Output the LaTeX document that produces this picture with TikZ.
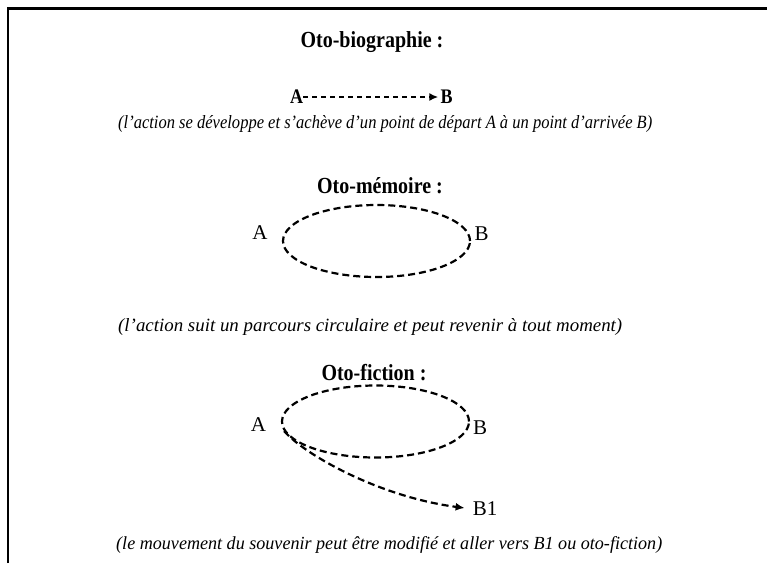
\documentclass[tikz,border=0pt]{standalone}
\usepackage{fontspec}
\setmainfont{Liberation Serif}
\usetikzlibrary{arrows.meta,shapes.geometric}
\tikzset{
  titre/.style={anchor=base,inner sep=0pt,font=\fontsize{20}{24}\selectfont\bfseries},
  lettre/.style={inner sep=0pt,font=\fontsize{21}{25}\selectfont},
  legende/.style={anchor=base west,inner sep=0pt},
  pointille/.style={line width=2.2pt,dash pattern=on 7pt off 4pt},
  boucle/.style={ellipse,draw,pointille,minimum width=187pt,minimum height=72pt,inner sep=0pt},
  fleche/.style={-{Latex[length=9pt,width=8pt]}}
}
\newcommand{\tit}[1]{\scalebox{1}[1.15]{#1}}
\newcommand{\leg}[2]{\resizebox{#1pt}{13pt}{\itshape #2}}
\begin{document}
\begin{tikzpicture}[x=1pt,y=-1pt]
\useasboundingbox (0,0) rectangle (767,563);
\fill[white] (0,0) rectangle (767,563);
\draw[line width=2.6pt] (8,563) -- (8,8.5) -- (767,8.5);

\node[titre] (t1) at (372,47) {\tit{Oto-biographie :}};
\node[lettre,font=\fontsize{18}{22}\selectfont\bfseries] (a1) at (296.5,97) {\tit{A}};
\node[lettre,font=\fontsize{18}{22}\selectfont\bfseries] (b1) at (446.5,97) {\tit{B}};
\draw[pointille,line width=1.9pt,dash pattern=on 5pt off 4pt,fleche,shorten >=2pt] (a1.east) -- (b1.west);
\node[legende] (l1) at (118,128) {\leg{534}{(l'action se développe et s'achève d'un point de départ A à un point d'arrivée B)}};

\node[titre] (t2) at (380,193) {\tit{Oto-mémoire :}};
\node[boucle] (e1) at (376.5,241) {};
\node[lettre] (a2) at (260,233) {A};
\node[lettre] (b2) at (481.5,234) {B};
\node[legende] (l2) at (118,331) {\leg{504}{(l'action suit un parcours circulaire et peut revenir à tout moment)}};

\node[titre] (t3) at (374,380) {\tit{Oto-fiction :}};
\node[boucle] (e2) at (375.5,421.5) {};
\node[lettre] (a3) at (258.5,425) {A};
\node[lettre] (b3) at (480,427.5) {B};
\node[lettre] (b4) at (485,509) {B1};
\draw[pointille,fleche,shorten >=8pt] (e2.186) .. controls (305,455) and (380,497) .. (b4.west);
\node[legende] (l3) at (116,549) {\leg{546}{(le mouvement du souvenir peut être modifié et aller vers B1 ou oto-fiction)}};
\end{tikzpicture}
\end{document}
